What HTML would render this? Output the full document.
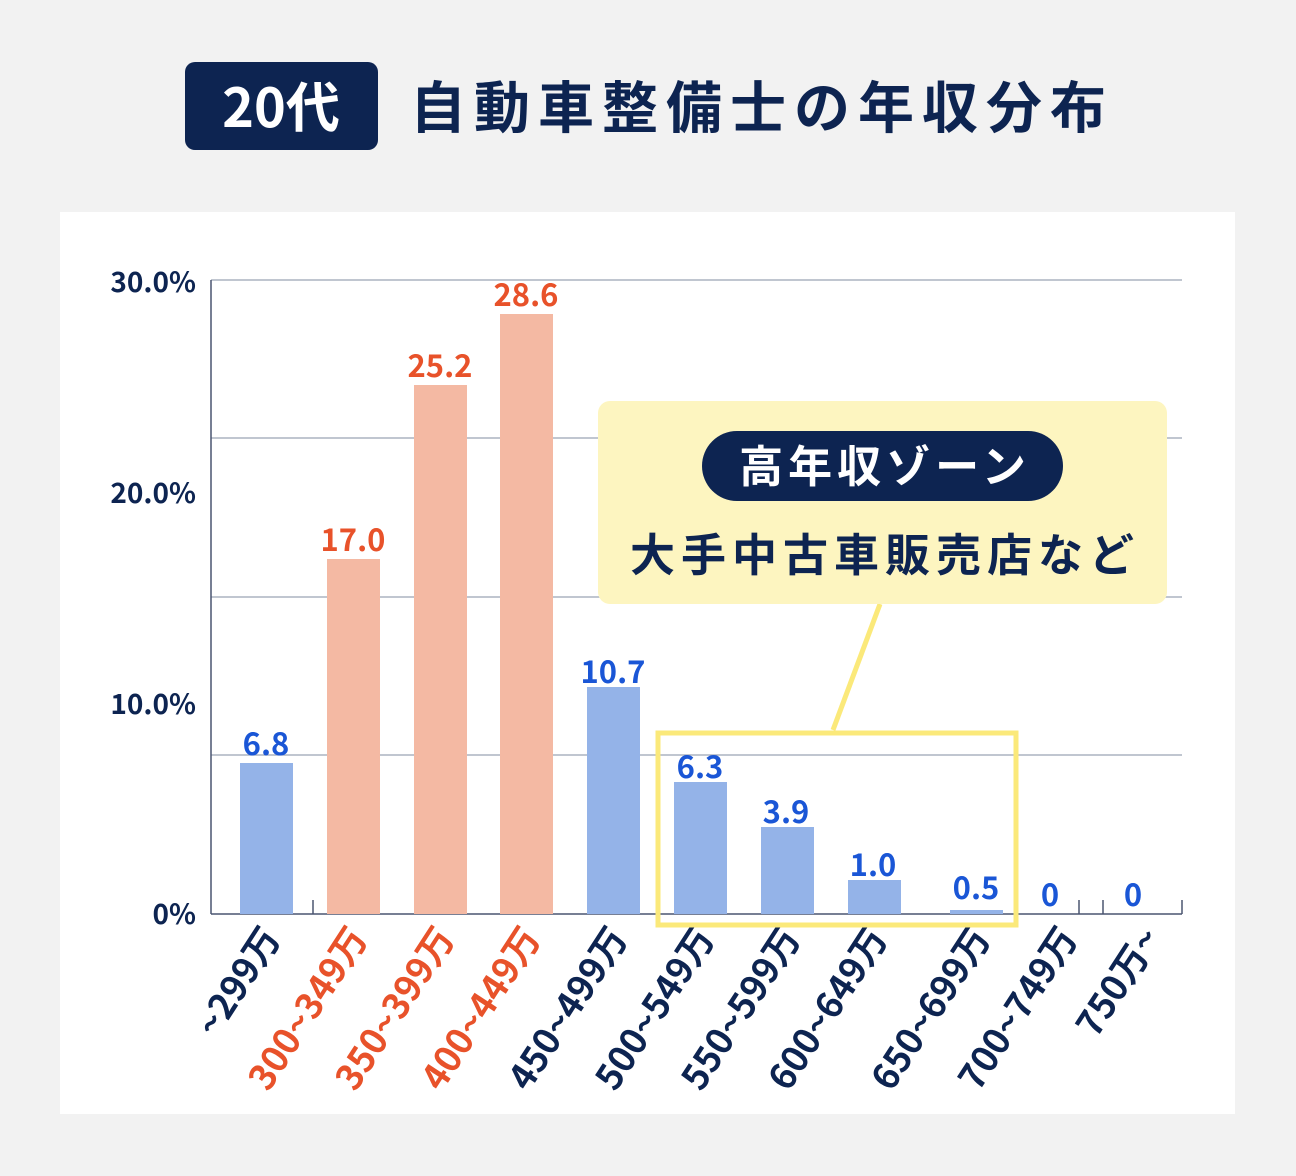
<!DOCTYPE html>
<html><head><meta charset="utf-8"><style>
body{margin:0;background:#f2f2f2;}
svg{display:block;font-family:"Liberation Sans","Noto Sans CJK JP",sans-serif;font-weight:bold;}
</style></head><body>
<svg width="1296" height="1176" viewBox="0 0 1296 1176">
<rect width="1296" height="1176" fill="#f2f2f2"/>
<rect x="185" y="62" width="193" height="88" rx="10" fill="#0d2451"/>
<text x="281" y="127" font-size="54" fill="#fff" text-anchor="middle" font-family="Noto Sans CJK JP">20代</text>
<text x="410" y="128" font-size="56" letter-spacing="8" fill="#0d2451" font-family="Noto Sans CJK JP">自動車整備士の年収分布</text>
<rect x="60" y="212" width="1175" height="902" fill="#fff"/>
<g stroke="#9aa3b5" stroke-width="1.2">
<line x1="211" y1="280" x2="1182" y2="280"/>
<line x1="211" y1="438" x2="1182" y2="438"/>
<line x1="211" y1="597" x2="1182" y2="597"/>
<line x1="211" y1="755" x2="1182" y2="755"/>
</g>
<g stroke="#4a5570" stroke-width="1.5">
<line x1="211" y1="280" x2="211" y2="914"/>
<line x1="211" y1="914" x2="1182" y2="914"/>
<line x1="313" y1="900" x2="313" y2="914"/><line x1="1182" y1="900" x2="1182" y2="914"/>
<line x1="1079" y1="900" x2="1079" y2="914"/><line x1="1103" y1="900" x2="1103" y2="914"/>
</g>
<g font-size="28" fill="#0d2451" text-anchor="end" font-family="Noto Sans CJK JP">
<text x="196" y="292">30.0%</text><text x="196" y="503">20.0%</text><text x="196" y="714">10.0%</text><text x="196" y="924">0%</text>
</g>
<g fill="#94b3e8">
<rect x="240" y="763" width="53" height="151"/>
<rect x="587" y="687" width="53" height="227"/>
<rect x="674" y="782" width="53" height="132"/>
<rect x="761" y="827" width="53" height="87"/>
<rect x="848" y="880" width="53" height="34"/>
<rect x="950" y="910" width="53" height="4"/>
</g>
<g fill="#f4b9a3">
<rect x="327" y="559" width="53" height="355"/>
<rect x="414" y="385" width="53" height="529"/>
<rect x="500" y="314" width="53" height="600"/>
</g>
<g font-size="31" text-anchor="middle" font-family="Noto Sans CJK JP">
<text x="266" y="755" fill="#1a56d6">6.8</text>
<text x="353" y="551" fill="#e8522a">17.0</text>
<text x="440" y="377" fill="#e8522a">25.2</text>
<text x="526" y="306" fill="#e8522a">28.6</text>
<text x="613" y="683" fill="#1a56d6">10.7</text>
<text x="700" y="778" fill="#1a56d6">6.3</text>
<text x="786" y="823" fill="#1a56d6">3.9</text>
<text x="873" y="876" fill="#1a56d6">1.0</text>
<text x="976" y="899" fill="#1a56d6">0.5</text>
<text x="1050" y="906" fill="#1a56d6">0</text>
<text x="1133" y="906" fill="#1a56d6">0</text>
</g>
<g font-size="36" text-anchor="end" font-family="Noto Sans CJK JP">
<text transform="translate(282,938) rotate(-57)" fill="#0d2451">~299万</text>
<text transform="translate(369,938) rotate(-57)" fill="#e8522a">300~349万</text>
<text transform="translate(456,938) rotate(-57)" fill="#e8522a">350~399万</text>
<text transform="translate(542,938) rotate(-57)" fill="#e8522a">400~449万</text>
<text transform="translate(629,938) rotate(-57)" fill="#0d2451">450~499万</text>
<text transform="translate(716,938) rotate(-57)" fill="#0d2451">500~549万</text>
<text transform="translate(802,938) rotate(-57)" fill="#0d2451">550~599万</text>
<text transform="translate(889,938) rotate(-57)" fill="#0d2451">600~649万</text>
<text transform="translate(992,938) rotate(-57)" fill="#0d2451">650~699万</text>
<text transform="translate(1079,938) rotate(-57)" fill="#0d2451">700~749万</text>
<text transform="translate(1162,938) rotate(-57)" fill="#0d2451">750万~</text>
</g>
<line x1="880" y1="604" x2="833" y2="730" stroke="#fbe97a" stroke-width="5"/>
<rect x="658" y="733" width="358" height="192" fill="none" stroke="#fbe97a" stroke-width="5"/>
<rect x="598" y="401" width="569" height="203" rx="12" fill="#fdf5c0"/>
<rect x="702" y="431" width="361" height="70" rx="35" fill="#0d2451"/>
<text x="885" y="482" font-size="44" letter-spacing="5" fill="#fff" text-anchor="middle" font-family="Noto Sans CJK JP">高年収ゾーン</text>
<text x="885" y="571" font-size="45" letter-spacing="6" fill="#0d2451" text-anchor="middle" font-family="Noto Sans CJK JP">大手中古車販売店など</text>
</svg>
</body></html>
